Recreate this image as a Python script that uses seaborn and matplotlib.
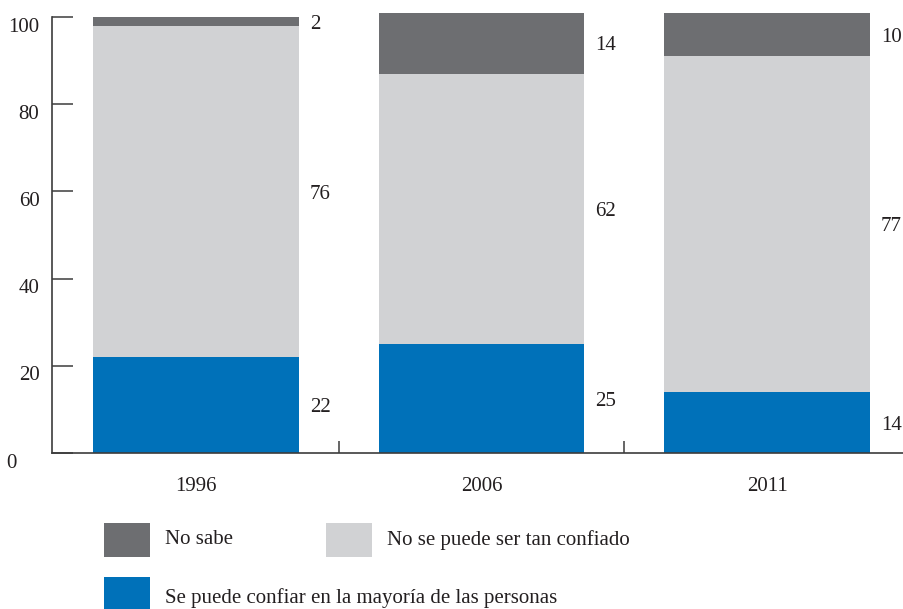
import matplotlib
matplotlib.use("Agg")
import matplotlib.pyplot as plt
import matplotlib.transforms as mtransforms
from matplotlib.patches import Rectangle
import numpy as np
import pandas as pd
import seaborn as sns

# ---- data ----
years = ["1996", "2006", "2011"]
se_puede = [22, 25, 14]
no_se_puede = [76, 62, 77]
no_sabe = [2, 14, 10]
series_labels = ["No sabe", "No se puede ser tan confiado",
                 "Se puede confiar en la mayoría de las personas"]
yticks = [0, 20, 40, 60, 80, 100]

c_dark = "#6d6e71"
c_light = "#d1d2d4"
c_blue = "#0071b9"
c_axis = "#3c3c3c"
FS = 15

sns.set_theme(style="white")
plt.rcParams["font.family"] = ["Liberation Serif", "DejaVu Serif"]
plt.rcParams["font.size"] = FS

fig = plt.figure(figsize=(9.04, 6.09), dpi=100)
W, H = 904, 609
ax_left, ax_right = 52, 903
y0_px, y100_px = 453, 17
ppu = (y0_px - y100_px) / 100.0
ytop = 102
ax_top_px = y0_px - ytop * ppu
ax = fig.add_axes([ax_left / W, 1 - y0_px / H, (ax_right - ax_left) / W,
                   (y0_px - ax_top_px) / H])

df = pd.DataFrame({"year": years, "blue": se_puede, "light": no_se_puede,
                   "dark": no_sabe})
df["cum_blue"] = df["blue"]
df["cum_light"] = df["blue"] + df["light"]
df["cum_dark"] = df["cum_light"] + df["dark"]

bw = 0.72
for col, color in [("cum_dark", c_dark), ("cum_light", c_light), ("cum_blue", c_blue)]:
    sns.barplot(data=df, x="year", y=col, order=years, color=color,
                saturation=1, width=bw, linewidth=0, ax=ax, errorbar=None)

# value labels
for i in range(len(years)):
    segs = [(0, df["blue"][i]), (df["cum_blue"][i], df["light"][i]),
            (df["cum_light"][i], df["dark"][i])]
    for base, h in segs:
        ax.annotate(f"{h}", xy=(i + bw / 2, base + h / 2), xytext=(8, -2),
                    textcoords="offset points", ha="left", va="center",
                    fontsize=FS, color="#231f20")

centers_px = (196, 481.5, 767)
step = centers_px[1] - centers_px[0]
ax.set_xlim((ax_left - centers_px[0]) / step, (ax_right - centers_px[0]) / step)
ax.set_ylim(0, ytop)
ax.set_xlabel("")
ax.set_ylabel("")

ax.set_yticks(yticks)
ax.set_yticklabels([str(t) for t in yticks])
ax.set_xticks(range(len(years)))
ax.set_xticklabels(years)
ax.set_xticks([0.5, 1.5], minor=True)

for s in ["top", "right"]:
    ax.spines[s].set_visible(False)
for s in ["left", "bottom"]:
    ax.spines[s].set_color(c_axis)
    ax.spines[s].set_linewidth(1.2)
ax.spines["left"].set_bounds(0, 100)

ax.tick_params(axis="y", which="major", direction="in", length=15, width=1.1,
               color=c_axis, pad=9, labelsize=FS, labelcolor="#231f20", left=True)
ax.tick_params(axis="x", which="major", length=0, pad=17, labelsize=FS,
               labelcolor="#231f20", bottom=True)
ax.tick_params(axis="x", which="minor", direction="in", length=9, width=1.1,
               color=c_axis, bottom=True)

# shift y tick labels down to match reference
for k, lab in enumerate(ax.get_yticklabels()):
    dx = -0.23 if k == 0 else 0
    off = mtransforms.ScaledTranslation(dx, -0.075, fig.dpi_scale_trans)
    lab.set_transform(lab.get_transform() + off)

# legend (manual)
def px_rect(x0, y0, w, h, color):
    fig.add_artist(Rectangle((x0 / W, 1 - (y0 + h) / H), w / W, h / H,
                             transform=fig.transFigure, color=color, lw=0))

legend_items = [
    (104, 523, 165, 540, c_dark, series_labels[0]),
    (326, 523, 387, 540, c_light, series_labels[1]),
    (104, 577, 165, 598, c_blue, series_labels[2]),
]
for sx, sy, tx, ty, color, label in legend_items:
    px_rect(sx, sy, 46, 34, color)
    fig.text(tx / W, 1 - ty / H, label, ha="left", va="center", fontsize=FS,
             color="#231f20")

fig.savefig("out.png", dpi=100)
